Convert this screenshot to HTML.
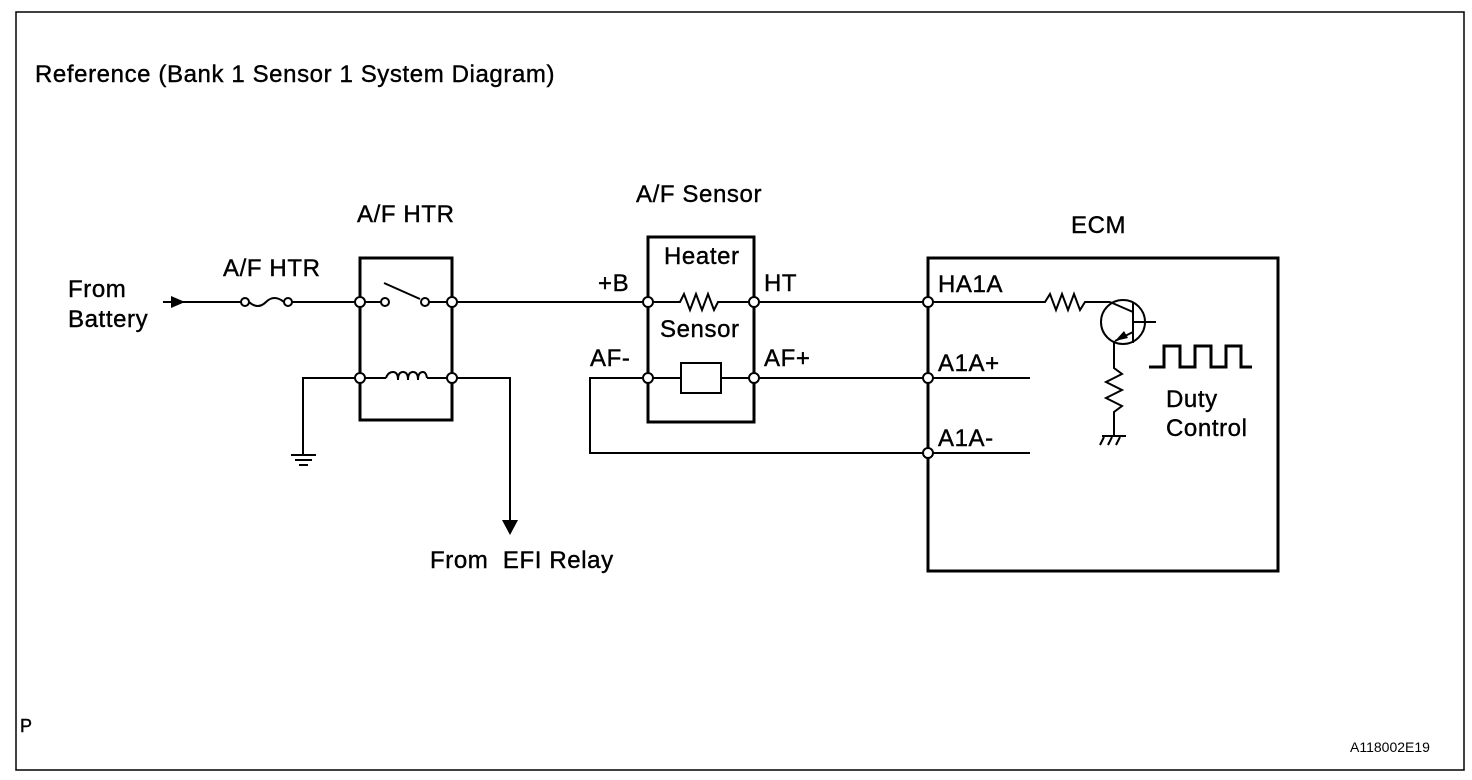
<!DOCTYPE html>
<html><head><meta charset="utf-8"><style>
html,body{margin:0;padding:0;background:#fff}
svg{display:block}
text{font-family:"Liberation Sans",Arial,sans-serif;font-size:24px;letter-spacing:0.6px;fill:#000;stroke:#000;stroke-width:0.4}
</style></head><body>
<svg width="1472" height="780" viewBox="0 0 1472 780" xmlns="http://www.w3.org/2000/svg">
<rect x="16" y="12" width="1448" height="758" fill="none" stroke="#000" stroke-width="1.5"/>
<text x="35" y="82">Reference (Bank 1 Sensor 1 System Diagram)</text>
<text x="68" y="297">From</text><text x="68" y="327">Battery</text>
<text x="223" y="276">A/F HTR</text>
<text x="357" y="222">A/F HTR</text>
<text x="636" y="202">A/F Sensor</text>
<text x="664" y="264">Heater</text>
<text x="660" y="337">Sensor</text>
<text x="598" y="291">+B</text>
<text x="764" y="291">HT</text>
<text x="590" y="366">AF-</text>
<text x="764" y="366">AF+</text>
<text x="1071" y="233">ECM</text>
<text x="938" y="292">HA1A</text>
<text x="938" y="371">A1A+</text>
<text x="938" y="446">A1A-</text>
<text x="1166" y="407">Duty</text>
<text x="1166" y="436">Control</text>
<text x="430" y="568" xml:space="preserve">From  EFI Relay</text>
<text x="20" y="732" style="font-size:18px;letter-spacing:0">P</text>
<text x="1350" y="752" style="font-size:14px;letter-spacing:0;stroke-width:0">A118002E19</text>
<g fill="none" stroke="#000" stroke-width="2">
<line x1="163" y1="302" x2="241" y2="302"/>
<path d="M249 302 Q258 310 266 302 Q274 294 284 302"/>
<line x1="292" y1="302" x2="356" y2="302"/>
<line x1="456" y1="302" x2="642" y2="302"/>
<line x1="364" y1="302" x2="381" y2="302"/>
<line x1="384" y1="283" x2="420" y2="299"/>
<line x1="429" y1="302" x2="448" y2="302"/>
<line x1="364" y1="378" x2="386" y2="378"/>
<path d="M386 378 Q388 372 393 372 Q398 372 398 380 Q398 372 403 372 Q408 372 408 380 Q408 372 413 372 Q418 372 418 380 Q418 372 423 372 Q426 372 427 378"/>
<line x1="427" y1="378" x2="448" y2="378"/>
<path d="M356 378 H303 V455"/>
<line x1="291" y1="455" x2="316" y2="455"/>
<line x1="295" y1="460" x2="312" y2="460"/>
<line x1="299" y1="465" x2="308" y2="465"/>
<path d="M456 378 H510 V520"/>
<path d="M650 302 H680 L684 294 L690 310 L696 294 L702 310 L708 294 L714 310 L718 302 H751"/>
<line x1="650" y1="378" x2="681" y2="378"/>
<rect x="681" y="363" width="40" height="30"/>
<line x1="721" y1="378" x2="751" y2="378"/>
<line x1="759" y1="302" x2="924" y2="302"/>
<line x1="759" y1="378" x2="924" y2="378"/>
<path d="M642 378 H590 V453 H924"/>
<line x1="932" y1="378" x2="1030" y2="378"/>
<line x1="932" y1="453" x2="1030" y2="453"/>
<path d="M932 302 H1045 L1050 294 L1056 310 L1062 294 L1068 310 L1074 294 L1080 310 L1085 302 H1110"/>
<circle cx="1123" cy="322" r="22"/>
<line x1="1133" y1="302" x2="1133" y2="343"/>
<line x1="1133" y1="322" x2="1156" y2="322"/>
<line x1="1110" y1="302" x2="1133" y2="312"/>
<line x1="1133" y1="332" x2="1115" y2="341"/>
<path d="M1114 341 V368 L1122 374 L1106 382 L1122 390 L1106 398 L1122 406 L1114 412 V435"/>
<line x1="1102" y1="436" x2="1126" y2="436"/>
<line x1="1104" y1="437" x2="1100" y2="445"/><line x1="1112" y1="437" x2="1108" y2="445"/><line x1="1120" y1="437" x2="1116" y2="445"/>
<path d="M1149 367 H1164 V346 H1180 V367 H1195 V346 H1211 V367 H1226 V346 H1241 V367 H1252" stroke-width="3"/>
</g>
<polygon points="1115,341 1124,331 1128,338" fill="#000"/>
<polygon points="171,296 171,308 185,302" fill="#000"/>
<polygon points="502,520 518,520 510,535" fill="#000"/>
<g fill="none" stroke="#000" stroke-width="3">
<rect x="360" y="258" width="92" height="162"/>
<rect x="648" y="237" width="106" height="185"/>
<rect x="928" y="258" width="350" height="313"/>
</g>
<g fill="#fff" stroke="#000" stroke-width="2">
<circle cx="245" cy="302" r="4"/><circle cx="288" cy="302" r="4"/>
<circle cx="385" cy="302" r="4"/><circle cx="425" cy="302" r="4"/>
<circle cx="360" cy="302" r="5"/><circle cx="452" cy="302" r="5"/>
<circle cx="360" cy="378" r="5"/><circle cx="452" cy="378" r="5"/>
<circle cx="648" cy="302" r="5"/><circle cx="754" cy="302" r="5"/>
<circle cx="648" cy="378" r="5"/><circle cx="754" cy="378" r="5"/>
<circle cx="928" cy="302" r="5"/><circle cx="928" cy="378" r="5"/><circle cx="928" cy="453" r="5"/>
</g>
</svg>
</body></html>
